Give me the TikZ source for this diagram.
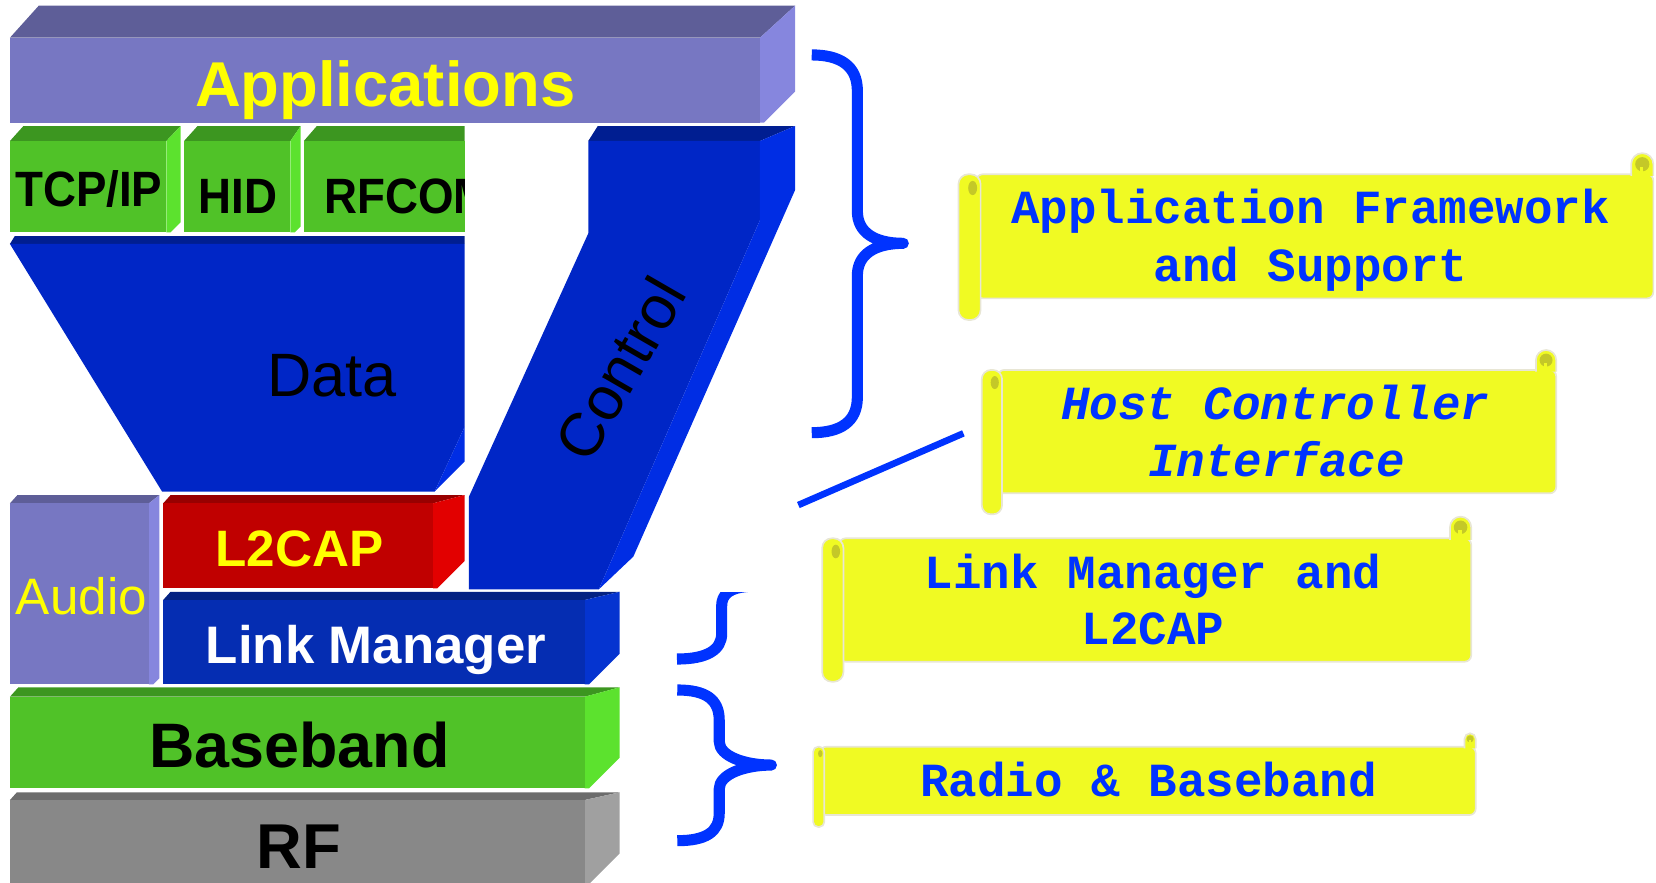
\documentclass[tikz,border=0pt]{standalone}
\usepackage{fontspec}
\setmainfont{Liberation Sans}
\newfontfamily\monofam{Liberation Mono}
\usetikzlibrary{calc}
\definecolor{appF}{RGB}{119,119,194}
\definecolor{appT}{RGB}{94,94,152}
\definecolor{appS}{RGB}{134,134,222}
\definecolor{grF}{RGB}{80,194,40}
\definecolor{grT}{RGB}{60,150,32}
\definecolor{grS}{RGB}{92,226,46}
\definecolor{blF}{RGB}{0,38,198}
\definecolor{blT}{RGB}{0,30,145}
\definecolor{blS}{RGB}{0,45,228}
\definecolor{lmF}{RGB}{5,45,178}
\definecolor{lmT}{RGB}{4,34,130}
\definecolor{lmS}{RGB}{5,52,208}
\definecolor{rdF}{RGB}{192,0,0}
\definecolor{rdT}{RGB}{152,0,0}
\definecolor{rdS}{RGB}{226,0,0}
\definecolor{gyF}{RGB}{136,136,136}
\definecolor{gyT}{RGB}{108,108,108}
\definecolor{gyS}{RGB}{160,160,160}
\definecolor{braceblue}{RGB}{0,51,255}
\definecolor{scrollY}{RGB}{240,250,35}
\definecolor{scrollB}{RGB}{232,230,212}
\definecolor{scrollO}{RGB}{196,200,40}
\definecolor{txtY}{RGB}{255,255,0}
\newcommand\fsz[1]{\fontsize{#1}{#1}\selectfont}
% x1 y1 x2 y2 t d front top side
\newcommand\stackblock[9]{%
  \fill[#8] (#1,#2) -- ({#1+0.9*#5},{#2-#5}) -- ({#3+#6},{#2-#5}) -- (#3,#2) -- cycle;
  \fill[#9] (#3,#2) -- ({#3+#6},{#2-#5}) -- ({#3+#6},{#4-#6+4}) -- ({#3+4},#4) -- (#3,#4) -- cycle;
  \fill[#7] (#1,#2) rectangle (#3,#4);
}
% xl xroll top bottom rollbottom right curltop
\newcommand\drawscroll[7]{%
  \pgfmathsetmacro\sw{#2-#1}%
  \pgfmathsetmacro\sr{0.45*\sw}%
  \filldraw[scrollsty, rounded corners=6pt] ({#2-4},#3) -- (#6,#3) -- (#6,#4) -- ({#2-4},#4) -- cycle;
  \filldraw[scrollsty] ({#6-\sw},{#3+1.5}) -- ({#6-\sw},{#7+\sw/2}) arc[start angle=180, end angle=360, radius=\sw/2] -- (#6,{#3+1.5});
  \fill[scrollO] ({#6-\sw/2},{#7+\sw/2}) circle[radius=0.32*\sw];
  \fill[scrollY] ({#6-0.62*\sw},{#7+0.62*\sw}) rectangle ({#6-0.45*\sw},{#7+0.85*\sw});
  \filldraw[scrollsty, rounded corners=\sr pt] (#1,#3) rectangle (#2,#5);
  \fill[scrollO] ({#1+0.64*\sw},{#3+0.62*\sw}) ellipse[x radius=0.2*\sw, y radius=0.32*\sw];
}
\tikzset{
  lbl/.style={inner sep=0pt, anchor=base},
  scrollsty/.style={fill=scrollY, draw=scrollB, line width=1.6pt},
  scrtxt/.style={lbl, text=braceblue, font=\monofam\bfseries\fsz{45}},
  scrtxti/.style={lbl, text=braceblue, font=\monofam\bfseries\itshape\fsz{45}},
  brc/.style={draw=braceblue, line width=10.5pt, line join=round},
  greentxt/.style={lbl, font=\fsz{47}\bfseries, xscale=0.92},
}
\begin{document}
\begin{tikzpicture}[x=1pt, y=-1pt]
\useasboundingbox (0,0) rectangle (1568,836);

% ---------- stack blocks ----------
\stackblock{9.4}{35.7}{719.6}{116}{30.3}{33.2}{appF}{appT}{appS}
\stackblock{9.4}{133.5}{157.5}{220}{14.2}{13.5}{grF}{grT}{grS}
\stackblock{174.3}{133.5}{275}{220}{14.2}{9.7}{grF}{grT}{grS}
\fill[grT] (287.7,133.5) -- (300,119.3) -- (440,119.3) -- (440,133.5) -- cycle;
\fill[grF] (287.7,133.5) rectangle (440,220);

% Data funnel
\fill[blT] (9.4,231) -- (14,223.5) -- (440,223.5) -- (440,231) -- cycle;
\fill[blF] (9.4,231) -- (440,231) -- (440,404) -- (411.5,465.5) -- (153.5,465.5) -- cycle;
\fill[blS] (440,404) -- (440,437) -- (411.5,465.5) -- cycle;

% Control bar
\fill[blT] (557,133.5) -- (566,119.3) -- (752.8,119.3) -- (719.6,133.5) -- cycle;
\fill[blF] (557,133.5) -- (719.6,133.5) -- (719.6,208.3) -- (567,558) -- (444,558) -- (444,470.3) -- (557,221) -- cycle;
\fill[blS] (719.6,133.5) -- (752.8,119.3) -- (752.8,180) -- (599.7,527) -- (567,558) -- (719.6,208.3) -- cycle;

\stackblock{9.4}{476.6}{141}{648}{7.9}{10}{appF}{appT}{appS}
\stackblock{154.5}{476.6}{410}{557}{7.9}{30}{rdF}{rdT}{rdS}
\stackblock{154.5}{568.1}{553.6}{648}{7.8}{33.2}{lmF}{lmT}{lmS}
\stackblock{9.4}{659.7}{553.6}{746.5}{8.9}{33.2}{grF}{grT}{grS}
\stackblock{9.4}{757.5}{553.6}{837.2}{7.3}{33.2}{gyF}{gyT}{gyS}

% ---------- block labels ----------
\node[lbl, text=txtY, font=\fsz{60}\bfseries] (apps) at (364.7,100.4) {Applications};
\node[greentxt] (tcpip) at (84,195.7) {TCP/IP};
\node[greentxt] (hid) at (225.4,202) {HID};
\begin{scope}
  \clip (287.7,110) rectangle (440,225);
  \node[greentxt, anchor=base west] (rfcomm) at (307,202) {RFCOMM};
\end{scope}
\node[lbl, font=\fsz{58}] (data) at (314.5,375.6) {Data};
\node[inner sep=0pt, font=\fsz{58}, rotate=60] (control) at (587,349) {Control};
\node[lbl, anchor=base west, text=txtY, font=\fsz{48.5}] (audio) at (14.9,582.3) {Audio};
\node[lbl, text=txtY, font=\fsz{48.5}\bfseries] (l2cap) at (283.5,536.5) {L2CAP};
\node[lbl, text=white, font=\fsz{50}\bfseries] (lm) at (356,628) {Link Manager};
\node[lbl, font=\fsz{59.5}\bfseries] (baseband) at (283.5,726.9) {Baseband};
\node[lbl, font=\fsz{60}\bfseries] (rf) at (282.7,822.2) {RF};

% ---------- braces ----------
\draw[brc] (768.6,52) .. controls (795,52) and (811.8,62) .. (811.8,86) -- (811.8,200)
  .. controls (811.8,220) and (828,230.4) .. (855.3,230.4)
  .. controls (828,230.4) and (811.8,241) .. (811.8,261) -- (811.8,376)
  .. controls (811.8,400) and (795,409.7) .. (768.6,409.7);
\begin{scope}
  \clip (620,561) rectangle (740,640);
  \draw[brc] (641,624) .. controls (670,624) and (683.3,615) .. (683.3,600) -- (683.3,574)
    .. controls (683.3,563) and (690,556) .. (712,555);
\end{scope}
\draw[brc] (641.3,653.3) .. controls (668,653.3) and (681,662) .. (681,682) -- (681,702)
  .. controls (681,716) and (705,724.4) .. (730.4,724.4)
  .. controls (705,724.4) and (681,733) .. (681,747) -- (681,770)
  .. controls (681,788) and (668,796) .. (641.3,796);

% ---------- scrolls ----------
\drawscroll{907.5}{928.5}{165}{282.5}{303}{1565.5}{145}
\drawscroll{929.6}{948.8}{350.3}{467.1}{487}{1473.5}{331.4}
\drawscroll{778.5}{798.6}{509.7}{626.5}{645.5}{1393}{489.2}
\drawscroll{769.9}{780.5}{707}{771.7}{783}{1397.3}{694.3}

\node[scrtxt] (afw1) at (1241,212) {Application Framework};
\node[scrtxt] (afw2) at (1241,266.5) {and Support};
\node[scrtxti] (hci1) at (1207.5,397.5) {Host Controller};
\node[scrtxti] (hci2) at (1208.5,451.2) {Interface};
\node[scrtxt] (lmc1) at (1091.8,556.9) {Link Manager and};
\node[scrtxt] (lmc2) at (1091.6,610.6) {L2CAP};
\node[scrtxt] (rbb) at (1087.5,754.2) {Radio \& Baseband};

% ---------- HCI connector ----------
\coordinate (hciA) at (755.9,478.2);
\coordinate (hciB) at (912.2,410.3);
\draw[draw=braceblue, line width=6.3pt] (hciA) -- (hciB);
\end{tikzpicture}
\end{document}
